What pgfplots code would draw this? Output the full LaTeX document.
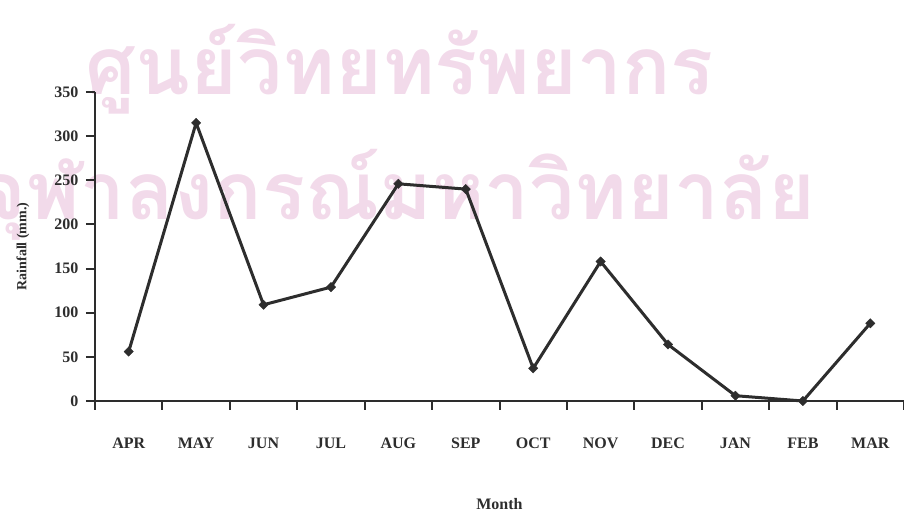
\documentclass[border=0pt]{standalone}
\usepackage{fontspec}
\setmainfont{Liberation Serif}
\newfontfamily\thaifont[Script=Thai]{Loma}
\usepackage{pgfplots}
\pgfplotsset{compat=1.18}
\definecolor{ink}{RGB}{45,45,45}
\definecolor{stamp}{RGB}{242,218,234}
\newcommand{\lbl}{\fontsize{16}{19}\selectfont\bfseries}
\begin{document}
\begin{tikzpicture}[x=1pt,y=1pt]
\useasboundingbox (-95,-112) rectangle (809,401);
\clip (-95,-112) rectangle (809,401);
% watermark behind the chart
\node[anchor=base west, inner sep=0, text=stamp] at (-10,306)
  {\thaifont\bfseries\fontsize{80}{80}\selectfont ศูนย์วิทยทรัพยากร};
\node[anchor=base east, inner sep=0, text=stamp] at (720,181)
  {\thaifont\bfseries\fontsize{80}{80}\selectfont จุฬาลงกรณ์มหาวิทยาลัย};
\begin{axis}[
	scale only axis,
	width=809pt,
	height=309pt,
	xmin=0, xmax=12,
	ymin=0, ymax=350,
	clip=false,
	axis x line=bottom,
	axis y line=left,
	every outer x axis line/.append style={-},
	every outer y axis line/.append style={-},
	axis line style={-, ink, line width=2.6pt},
	xtick={0,...,12},
	xticklabels={APR,MAY,JUN,JUL,AUG,SEP,OCT,NOV,DEC,JAN,FEB,MAR},
	x tick label as interval,
	ytick={0,50,...,350},
	tick align=outside,
	major tick length=9pt,
	tick style={ink, line width=2pt},
	/pgf/number format/assume math mode=true,
	xticklabel style={font=\lbl, text=ink, yshift=-24pt},
	yticklabel style={font=\lbl, text=ink, xshift=-4pt},
	xlabel={Month},
	ylabel={Rainfall (mm.)},
	xlabel style={font=\lbl, text=ink, at={(axis description cs:0.5,0)}, anchor=center, yshift=-103pt},
	ylabel style={font=\fontsize{14}{17}\selectfont\bfseries, text=ink, at={(axis description cs:0,0.5)}, anchor=center, yshift=72pt},
]
\addplot[ink, line width=3pt, mark=square*, mark size=3.3pt,
	mark options={solid, rotate=45, fill=ink, line width=0.4pt}]
coordinates {
(0.5,56) (1.5,315) (2.5,109) (3.5,129) (4.5,246) (5.5,240)
(6.5,37) (7.5,158) (8.5,64) (9.5,6) (10.5,0) (11.5,88)
};
\end{axis}
\end{tikzpicture}
\end{document}
